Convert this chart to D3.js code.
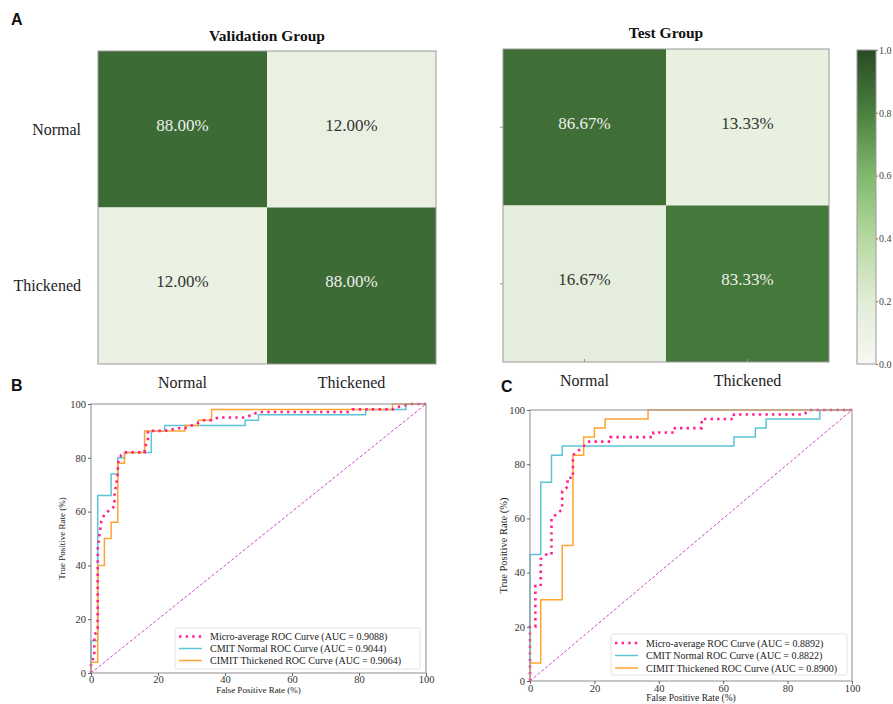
<!DOCTYPE html>
<html><head><meta charset="utf-8">
<script src="https://cdn.jsdelivr.net/npm/d3@7"></script>
<style>body{margin:0;background:#fff}svg{display:block}</style>
</head><body>
<svg id="chart" width="893" height="704"></svg>
<script>
// ---------- DATA ----------
const classes = ["Normal", "Thickened"];
const validationMatrix = [[0.88, 0.12], [0.12, 0.88]];
const testMatrix = [[0.8667, 0.1333], [0.1667, 0.8333]];
const colorbarTicks = [0, 0.2, 0.4, 0.6, 0.8, 1.0];
const rocTicks = [0, 20, 40, 60, 80, 100];

// ROC B (validation) : [FPR %, TPR %]
const bMicro = [[0,0],[0,4],[1,6],[1,14],[2,16],[2,46],[3,56],[4,59],[5,60],[6,61],[7,62],[7,66],[8,74],[8,78],[9,81],[10,82],[16,82],[16,84],[17,86],[17,90],[22,90],[26,91],[28,91],[30,92],[32,93],[34,94],[36,94],[38,95],[46,95],[48,96],[50,97],[77,97],[78,98],[90,98],[92,99],[95,100],[100,100]];
const bNormal = [[0,0],[0,12],[2,12],[2,66],[6,66],[6,74],[8,74],[8,80],[10,80],[10,82],[18,82],[18,90],[22,90],[22,92],[46,92],[46,94],[50,94],[50,96],[82,96],[82,98],[94,98],[94,100],[100,100]];
const bThick = [[0,0],[0,4],[2,4],[2,40],[4,40],[4,50],[6,50],[6,56],[8,56],[8,78],[10,78],[10,82],[16,82],[16,90],[28,90],[28,92],[32,92],[32,94],[36,94],[36,98],[90,98],[90,100],[100,100]];
const bLabels = ["Micro-average ROC Curve (AUC = 0.9088)", "CMIT Normal ROC Curve (AUC = 0.9044)", "CIMIT Thickened ROC Curve (AUC = 0.9064)"];

// ROC C (test)
const cMicro = [[0,0],[0,20],[1.67,20],[1.67,35],[3.33,35],[3.33,45],[5,46.67],[6.67,46.67],[6.67,60],[8.33,61.67],[10,63.33],[10,70],[11.67,71.67],[11.67,75],[13.33,75],[13.33,83.33],[15,85],[16.67,86.67],[18.33,88.33],[25,88.33],[25,90],[38.33,90],[38.33,91.67],[45,91.67],[45,93.33],[53.33,93.33],[53.33,96.67],[63.33,96.67],[63.33,98.33],[85,98.33],[86.67,100],[100,100]];
const cNormal = [[0,0],[0,46.67],[3.33,46.67],[3.33,73.33],[6.67,73.33],[6.67,83.33],[10,83.33],[10,86.67],[63.33,86.67],[63.33,90],[70,90],[70,93.33],[73.33,93.33],[73.33,96.67],[90,96.67],[90,100],[100,100]];
const cThick = [[0,0],[0,6.67],[3.33,6.67],[3.33,30],[10,30],[10,50],[13.33,50],[13.33,83.33],[16.67,83.33],[16.67,90],[20,90],[20,93.33],[23.33,93.33],[23.33,96.67],[36.67,96.67],[36.67,100],[100,100]];
const cLabels = ["Micro-average ROC Curve (AUC = 0.8892)", "CMIT Normal ROC Curve (AUC = 0.8822)", "CIMIT Thickened ROC Curve (AUC = 0.8900)"];

// ---------- STYLE ----------
const SERIF = "'Liberation Serif','Times New Roman',serif";
const SANS = "'Liberation Sans',Arial,sans-serif";
const svg = d3.select("#chart");

const color = d3.scaleLinear()
  .domain([0, 0.2, 0.4, 0.6, 0.8, 1.0])
  .range(["#f7f8f3", "#e1ecd7", "#b6d8a0", "#80b96c", "#4a813f", "#2a4a25"])
  .interpolate(d3.interpolateRgb);

function panelLetter(t, x, y) {
  svg.append("text").attr("x", x).attr("y", y).text(t)
    .attr("font-family", SANS).attr("font-weight", "bold").attr("font-size", 16).attr("fill", "#111");
}
panelLetter("A", 11, 25);
panelLetter("B", 11, 391);
panelLetter("C", 501, 392);

// ---------- HEATMAPS ----------
function heatmap(opt) {
  const g = svg.append("g");
  const x = d3.scaleBand().domain(classes).range([opt.x, opt.x + opt.w]);
  const y = d3.scaleBand().domain(classes).range([opt.y, opt.y + opt.h]);
  opt.m.forEach((row, i) => row.forEach((v, j) => {
    g.append("rect").attr("x", x(classes[j])).attr("y", y(classes[i]))
      .attr("width", x.bandwidth()).attr("height", y.bandwidth()).attr("fill", color(v));
    g.append("text").attr("x", x(classes[j]) + x.bandwidth() / 2)
      .attr("y", y(classes[i]) + y.bandwidth() / 2 - 4)
      .attr("text-anchor", "middle").attr("dominant-baseline", "central")
      .attr("font-family", SERIF).attr("font-size", 17)
      .attr("fill", v > 0.5 ? "#eeeeee" : "#333333")
      .text((v * 100).toFixed(2) + "%");
  }));
  g.append("rect").attr("x", opt.x).attr("y", opt.y).attr("width", opt.w).attr("height", opt.h)
    .attr("fill", "none").attr("stroke", "#9a9a9a").attr("stroke-width", 1);
  g.append("text").attr("x", opt.x + opt.w / 2).attr("y", opt.titleY).attr("text-anchor", "middle")
    .attr("font-family", SERIF).attr("font-weight", "bold").attr("font-size", 15.5).attr("fill", "#111")
    .text(opt.title);
  classes.forEach(c => {
    g.append("text").attr("x", x(c) + x.bandwidth() / 2).attr("y", opt.y + opt.h + 24)
      .attr("text-anchor", "middle").attr("font-family", SERIF).attr("font-size", 16).attr("fill", "#222").text(c);
    if (opt.ticks) {
      g.append("line").attr("x1", x(c) + x.bandwidth() / 2).attr("x2", x(c) + x.bandwidth() / 2)
        .attr("y1", opt.y + opt.h - 3).attr("y2", opt.y + opt.h).attr("stroke", "#999");
      g.append("line").attr("y1", y(c) + y.bandwidth() / 2).attr("y2", y(c) + y.bandwidth() / 2)
        .attr("x1", opt.x - 3).attr("x2", opt.x).attr("stroke", "#999");
    }
    if (opt.ylabels) {
      g.append("text").attr("x", opt.x - 17).attr("y", y(c) + y.bandwidth() / 2)
        .attr("text-anchor", "end").attr("dominant-baseline", "central")
        .attr("font-family", SERIF).attr("font-size", 16).attr("fill", "#222").text(c);
    }
  });
}
heatmap({ m: validationMatrix, x: 98, y: 51, w: 338, h: 313, title: "Validation Group", titleY: 41, ylabels: true, ticks: false });
heatmap({ m: testMatrix, x: 503, y: 49, w: 326, h: 313, title: "Test Group", titleY: 38, ylabels: false, ticks: true });

// ---------- COLORBAR ----------
(function () {
  const cb = { x: 857, y: 50, w: 19, h: 314 };
  const defs = svg.append("defs");
  const grad = defs.append("linearGradient").attr("id", "cbgrad")
    .attr("x1", 0).attr("y1", 1).attr("x2", 0).attr("y2", 0);
  d3.range(0, 1.0001, 0.05).forEach(t => grad.append("stop").attr("offset", t).attr("stop-color", color(t)));
  svg.append("rect").attr("x", cb.x).attr("y", cb.y).attr("width", cb.w).attr("height", cb.h)
    .attr("fill", "url(#cbgrad)").attr("stroke", "#9a9a9a").attr("stroke-width", 1);
  const s = d3.scaleLinear().domain([0, 1]).range([cb.y + cb.h, cb.y]);
  const ax = svg.append("g").attr("transform", `translate(${cb.x + cb.w},0)`)
    .call(d3.axisRight(s).tickValues(colorbarTicks).tickFormat(d3.format(".1f")).tickSize(2).tickPadding(1));
  ax.select(".domain").remove();
  ax.selectAll("line").attr("stroke", "#777");
  ax.selectAll("text").attr("font-family", SERIF).attr("font-size", 10).attr("fill", "#444");
})();

// ---------- ROC ----------
function roc(opt) {
  const g = svg.append("g");
  const x = d3.scaleLinear().domain([0, 100]).range([opt.x, opt.x + opt.w]);
  const y = d3.scaleLinear().domain([0, 100]).range([opt.y + opt.h, opt.y]);
  const line = d3.line().x(d => x(d[0])).y(d => y(d[1]));
  g.append("path").attr("d", line([[0, 0], [100, 100]])).attr("fill", "none")
    .attr("stroke", "#c845c8").attr("stroke-width", 1).attr("stroke-dasharray", "3,2");
  const series = [
    { d: opt.micro, c: "#ff1f8e", w: 2.6, dash: "2.4,4.2" },
    { d: opt.normal, c: "#5cc4d6", w: 1.5, dash: null },
    { d: opt.thick, c: "#ffa433", w: 1.5, dash: null }
  ];
  [series[1], series[2], series[0]].forEach(s => {
    g.append("path").attr("d", line(s.d)).attr("fill", "none").attr("stroke", s.c)
      .attr("stroke-width", s.w).attr("stroke-dasharray", s.dash);
  });
  g.append("rect").attr("x", opt.x).attr("y", opt.y).attr("width", opt.w).attr("height", opt.h)
    .attr("fill", "none").attr("stroke", "#a0a0a0").attr("stroke-width", 1.2);
  const ax = g.append("g").attr("transform", `translate(0,${opt.y + opt.h})`)
    .call(d3.axisBottom(x).tickValues(rocTicks).tickSize(3).tickPadding(opt.xPad));
  const ay = g.append("g").attr("transform", `translate(${opt.x},0)`)
    .call(d3.axisLeft(y).tickValues(rocTicks).tickSize(3).tickPadding(2));
  [ax, ay].forEach(a => {
    a.select(".domain").remove();
    a.selectAll("line").attr("stroke", "#666");
    a.selectAll("text").attr("font-family", SERIF).attr("font-size", opt.tickFs).attr("fill", "#333");
  });
  g.append("text").attr("x", opt.x + opt.w / 2).attr("y", opt.xlabY).attr("text-anchor", "middle")
    .attr("font-family", SERIF).attr("font-size", opt.labFs).attr("fill", "#222").text("False Positive Rate (%)");
  g.append("text").attr("transform", `translate(${opt.ylabX},${opt.y + opt.h / 2}) rotate(-90)`)
    .attr("text-anchor", "middle").attr("dominant-baseline", "central")
    .attr("font-family", SERIF).attr("font-size", opt.ylabFs).attr("fill", "#222").text("True Positive Rate (%)");
  const L = opt.legend;
  g.append("rect").attr("x", L.x).attr("y", L.y).attr("width", L.w).attr("height", L.h)
    .attr("rx", 2).attr("fill", "#fff").attr("fill-opacity", 0.85).attr("stroke", "#dcdcdc").attr("stroke-width", 0.8);
  opt.labels.forEach((lab, i) => {
    const yy = L.y + L.first + i * L.step;
    const s = series[i];
    g.append("line").attr("x1", L.x + 4).attr("x2", L.x + 27).attr("y1", yy).attr("y2", yy)
      .attr("stroke", s.c).attr("stroke-width", s.w).attr("stroke-dasharray", s.dash);
    g.append("text").attr("x", L.x + 35).attr("y", yy).attr("dominant-baseline", "central")
      .attr("font-family", SERIF).attr("font-size", 10).attr("fill", "#222").text(lab);
  });
}
roc({ x: 91, y: 404, w: 335, h: 269, micro: bMicro, normal: bNormal, thick: bThick, labels: bLabels,
  tickFs: 10.5, labFs: 9, ylabFs: 9, xlabY: 693, ylabX: 62, xPad: 0,
  legend: { x: 175, y: 628, w: 245, h: 41, first: 8.5, step: 12 } });
roc({ x: 530, y: 410, w: 322, h: 271, micro: cMicro, normal: cNormal, thick: cThick, labels: cLabels,
  tickFs: 10.5, labFs: 9.5, ylabFs: 10.5, xlabY: 701, ylabX: 503, xPad: 1,
  legend: { x: 611, y: 634, w: 236, h: 41, first: 9, step: 12.5 } });
</script>
</body></html>
